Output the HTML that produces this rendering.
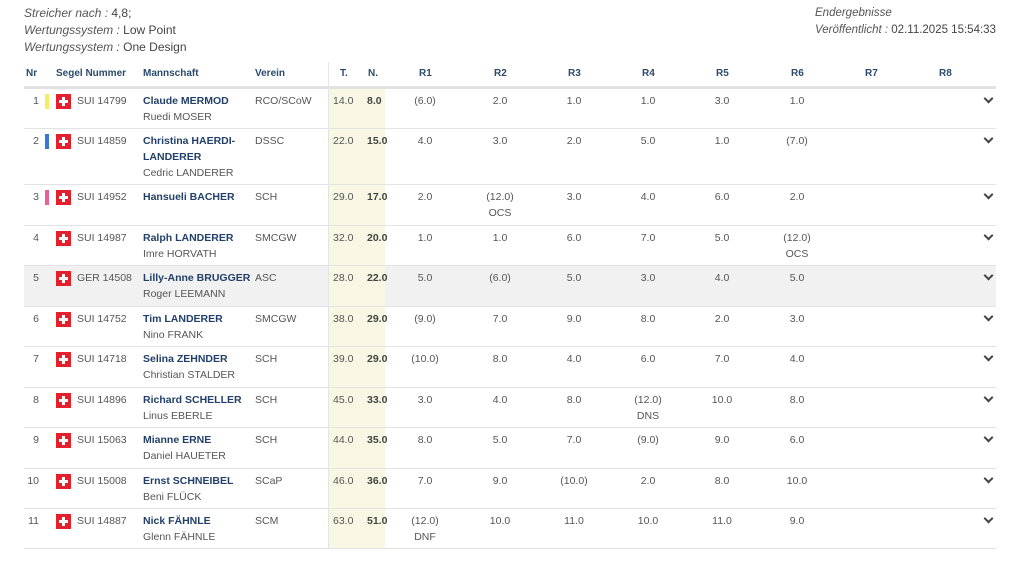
<!DOCTYPE html>
<html><head><meta charset="utf-8"><style>
*{margin:0;padding:0;box-sizing:border-box}
body{width:1024px;height:561px;background:#fff;font-family:"Liberation Sans",Arial,sans-serif;position:relative;overflow:hidden;color:#555}
.top{position:absolute;font-size:12px;color:#444;line-height:17px}
.top i{color:#555}
.h{position:absolute;top:68px;font-size:10px;font-weight:bold;color:#2b4a6e}
.hl{position:absolute;left:24px;width:972px;top:86px;height:3px;background:#e2e2e2}
.vl{position:absolute;left:328px;top:62px;width:1px;height:487px;background:#e4e4e4}
.yel{position:absolute;left:329px;top:89px;width:56px;height:460px;background:#f8f7e3}
.row{position:absolute;left:24px;width:972px;border-bottom:1px solid #e3e3e3;font-size:10.5px;line-height:16px}
.row div{position:absolute;top:4px}
.nr{left:0;width:15px;text-align:right}
.bar{left:21px;width:4px;height:15px;top:5px!important}
.fl{left:32px;width:15px;height:15px;top:5px!important;background:#e3202b}
.fl:before{content:"";position:absolute;left:6px;top:3px;width:3px;height:9px;background:#fff}
.fl:after{content:"";position:absolute;left:3px;top:6px;width:9px;height:3px;background:#fff}
.sn{left:53px}
.nm{left:119px;white-space:nowrap}
.nm b{color:#22406a}
.ve{left:231px}
.t{left:309px}
.n{left:343px;font-weight:bold;color:#444}
.r{width:60px;text-align:center}
.ch{left:961px;top:6px!important;width:7px;height:7px;border-right:2px solid #444;border-bottom:2px solid #444;transform:rotate(45deg)}
</style></head><body>
<div class="top" style="left:24px;top:5px"><i>Streicher nach :</i> 4,8;<br><i>Wertungssystem :</i> Low Point<br><i>Wertungssystem :</i> One Design</div>
<div class="top" style="left:815px;top:5px;font-size:11.5px;white-space:nowrap"><i>Endergebnisse</i><br><i>Veröffentlicht :</i> 02.11.2025 15:54:33</div>
<div class="h" style="left:26px">Nr</div>
<div class="h" style="left:56px">Segel Nummer</div>
<div class="h" style="left:143px">Mannschaft</div>
<div class="h" style="left:255px">Verein</div>
<div class="h" style="left:340px">T.</div>
<div class="h" style="left:368px">N.</div>
<div class="h" style="left:419px">R1</div>
<div class="h" style="left:494px">R2</div>
<div class="h" style="left:568px">R3</div>
<div class="h" style="left:642px">R4</div>
<div class="h" style="left:716px">R5</div>
<div class="h" style="left:791px">R6</div>
<div class="h" style="left:865px">R7</div>
<div class="h" style="left:939px">R8</div>
<div class="hl"></div>
<div class="row" style="top:266px;height:41px;background:#f1f1f1"></div>
<div class="yel"></div>
<div class="vl"></div>

<div class="row" style="top:89px;height:40px"><div class="nr">1</div><div class="bar" style="background:#f3f060"></div><div class="fl"></div><div class="sn">SUI 14799</div><div class="nm"><b>Claude MERMOD</b><br>Ruedi MOSER</div><div class="ve">RCO/SCoW</div><div class="t">14.0</div><div class="n">8.0</div><div class="r" style="left:371px">(6.0)</div><div class="r" style="left:446px">2.0</div><div class="r" style="left:520px">1.0</div><div class="r" style="left:594px">1.0</div><div class="r" style="left:668px">3.0</div><div class="r" style="left:743px">1.0</div><div class="ch"></div></div>
<div class="row" style="top:129px;height:56px"><div class="nr">2</div><div class="bar" style="background:#3a78d8"></div><div class="fl"></div><div class="sn">SUI 14859</div><div class="nm"><b>Christina HAERDI-<br>LANDERER</b><br>Cedric LANDERER</div><div class="ve">DSSC</div><div class="t">22.0</div><div class="n">15.0</div><div class="r" style="left:371px">4.0</div><div class="r" style="left:446px">3.0</div><div class="r" style="left:520px">2.0</div><div class="r" style="left:594px">5.0</div><div class="r" style="left:668px">1.0</div><div class="r" style="left:743px">(7.0)</div><div class="ch"></div></div>
<div class="row" style="top:185px;height:41px"><div class="nr">3</div><div class="bar" style="background:#e8609a"></div><div class="fl"></div><div class="sn">SUI 14952</div><div class="nm"><b>Hansueli BACHER</b></div><div class="ve">SCH</div><div class="t">29.0</div><div class="n">17.0</div><div class="r" style="left:371px">2.0</div><div class="r" style="left:446px">(12.0)<br>OCS</div><div class="r" style="left:520px">3.0</div><div class="r" style="left:594px">4.0</div><div class="r" style="left:668px">6.0</div><div class="r" style="left:743px">2.0</div><div class="ch"></div></div>
<div class="row" style="top:226px;height:40px"><div class="nr">4</div><div class="fl"></div><div class="sn">SUI 14987</div><div class="nm"><b>Ralph LANDERER</b><br>Imre HORVATH</div><div class="ve">SMCGW</div><div class="t">32.0</div><div class="n">20.0</div><div class="r" style="left:371px">1.0</div><div class="r" style="left:446px">1.0</div><div class="r" style="left:520px">6.0</div><div class="r" style="left:594px">7.0</div><div class="r" style="left:668px">5.0</div><div class="r" style="left:743px">(12.0)<br>OCS</div><div class="ch"></div></div>
<div class="row" style="top:266px;height:41px"><div class="nr">5</div><div class="fl"></div><div class="sn">GER 14508</div><div class="nm"><b>Lilly-Anne BRUGGER</b><br>Roger LEEMANN</div><div class="ve">ASC</div><div class="t">28.0</div><div class="n">22.0</div><div class="r" style="left:371px">5.0</div><div class="r" style="left:446px">(6.0)</div><div class="r" style="left:520px">5.0</div><div class="r" style="left:594px">3.0</div><div class="r" style="left:668px">4.0</div><div class="r" style="left:743px">5.0</div><div class="ch"></div></div>
<div class="row" style="top:307px;height:40px"><div class="nr">6</div><div class="fl"></div><div class="sn">SUI 14752</div><div class="nm"><b>Tim LANDERER</b><br>Nino FRANK</div><div class="ve">SMCGW</div><div class="t">38.0</div><div class="n">29.0</div><div class="r" style="left:371px">(9.0)</div><div class="r" style="left:446px">7.0</div><div class="r" style="left:520px">9.0</div><div class="r" style="left:594px">8.0</div><div class="r" style="left:668px">2.0</div><div class="r" style="left:743px">3.0</div><div class="ch"></div></div>
<div class="row" style="top:347px;height:41px"><div class="nr">7</div><div class="fl"></div><div class="sn">SUI 14718</div><div class="nm"><b>Selina ZEHNDER</b><br>Christian STALDER</div><div class="ve">SCH</div><div class="t">39.0</div><div class="n">29.0</div><div class="r" style="left:371px">(10.0)</div><div class="r" style="left:446px">8.0</div><div class="r" style="left:520px">4.0</div><div class="r" style="left:594px">6.0</div><div class="r" style="left:668px">7.0</div><div class="r" style="left:743px">4.0</div><div class="ch"></div></div>
<div class="row" style="top:388px;height:40px"><div class="nr">8</div><div class="fl"></div><div class="sn">SUI 14896</div><div class="nm"><b>Richard SCHELLER</b><br>Linus EBERLE</div><div class="ve">SCH</div><div class="t">45.0</div><div class="n">33.0</div><div class="r" style="left:371px">3.0</div><div class="r" style="left:446px">4.0</div><div class="r" style="left:520px">8.0</div><div class="r" style="left:594px">(12.0)<br>DNS</div><div class="r" style="left:668px">10.0</div><div class="r" style="left:743px">8.0</div><div class="ch"></div></div>
<div class="row" style="top:428px;height:41px"><div class="nr">9</div><div class="fl"></div><div class="sn">SUI 15063</div><div class="nm"><b>Mianne ERNE</b><br>Daniel HAUETER</div><div class="ve">SCH</div><div class="t">44.0</div><div class="n">35.0</div><div class="r" style="left:371px">8.0</div><div class="r" style="left:446px">5.0</div><div class="r" style="left:520px">7.0</div><div class="r" style="left:594px">(9.0)</div><div class="r" style="left:668px">9.0</div><div class="r" style="left:743px">6.0</div><div class="ch"></div></div>
<div class="row" style="top:469px;height:40px"><div class="nr">10</div><div class="fl"></div><div class="sn">SUI 15008</div><div class="nm"><b>Ernst SCHNEIBEL</b><br>Beni FLÜCK</div><div class="ve">SCaP</div><div class="t">46.0</div><div class="n">36.0</div><div class="r" style="left:371px">7.0</div><div class="r" style="left:446px">9.0</div><div class="r" style="left:520px">(10.0)</div><div class="r" style="left:594px">2.0</div><div class="r" style="left:668px">8.0</div><div class="r" style="left:743px">10.0</div><div class="ch"></div></div>
<div class="row" style="top:509px;height:40px"><div class="nr">11</div><div class="fl"></div><div class="sn">SUI 14887</div><div class="nm"><b>Nick FÄHNLE</b><br>Glenn FÄHNLE</div><div class="ve">SCM</div><div class="t">63.0</div><div class="n">51.0</div><div class="r" style="left:371px">(12.0)<br>DNF</div><div class="r" style="left:446px">10.0</div><div class="r" style="left:520px">11.0</div><div class="r" style="left:594px">10.0</div><div class="r" style="left:668px">11.0</div><div class="r" style="left:743px">9.0</div><div class="ch"></div></div>
</body></html>
